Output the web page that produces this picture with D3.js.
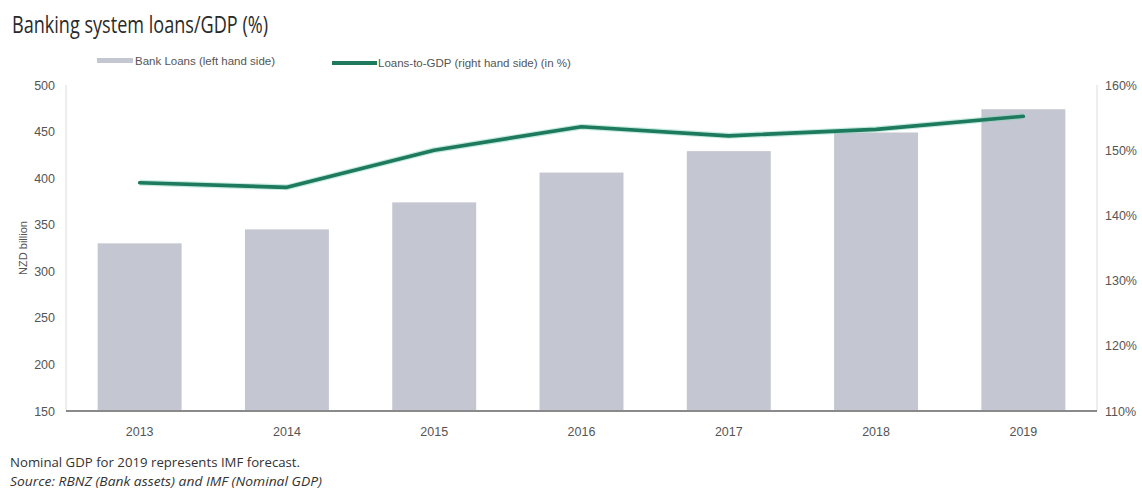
<!DOCTYPE html>
<html>
<head>
<meta charset="utf-8">
<script src="https://cdn.jsdelivr.net/npm/d3@7"></script>
<style>
  html, body { margin: 0; padding: 0; background: #fff; }
  svg { display: block; }
</style>
</head>
<body>
<svg id="chart" width="1142" height="496"></svg>
<script>
// Years on the category axis
const years = ["2013", "2014", "2015", "2016", "2017", "2018", "2019"];
// Bank loans, NZD billion (left axis)
const bankLoans = [330, 345, 374, 406, 429, 449, 474];
// Loans-to-GDP ratio, % (right axis)
const loansToGdp = [145.0, 144.3, 150.0, 153.6, 152.2, 153.2, 155.2];
// Axis ticks
const leftTicks = [150, 200, 250, 300, 350, 400, 450, 500];
const rightTicks = [110, 120, 130, 140, 150, 160];

const svg = d3.select("#chart");
const plot = { left: 66, right: 1097, top: 85, bottom: 411 };

const x = d3.scaleBand()
  .domain(years)
  .range([plot.left, plot.right])
  .paddingInner(0.43)
  .paddingOuter(0.215);

const yL = d3.scaleLinear().domain([150, 500]).range([plot.bottom, plot.top]);
const yR = d3.scaleLinear().domain([110, 160]).range([plot.bottom, plot.top]);

const labelFont = "'Liberation Sans', Arial, sans-serif";
const humanist = "'Open Sans', 'Noto Sans', sans-serif";

// Title
svg.append("text")
  .attr("x", 12).attr("y", 33)
  .attr("font-family", humanist)
  .attr("font-size", 23)
  .attr("fill", "#2a2a2a")
  .attr("textLength", 256)
  .attr("lengthAdjust", "spacingAndGlyphs")
  .text("Banking system loans/GDP (%)");

// Legend
const legend = svg.append("g").attr("font-family", labelFont).attr("font-size", 11.5).attr("fill", "#555");
legend.append("rect").attr("x", 97).attr("y", 58).attr("width", 36).attr("height", 5).attr("fill", "#c4c7d1");
legend.append("text").attr("x", 135).attr("y", 64.5).attr("fill", "#555").text("Bank Loans (left hand side)");
legend.append("line").attr("x1", 332).attr("x2", 377).attr("y1", 63).attr("y2", 63)
  .attr("stroke", "#1d7a5c").attr("stroke-width", 4);
legend.append("text").attr("x", 378).attr("y", 67).attr("fill", "#555").text("Loans-to-GDP (right hand side) (in %)");

// Vertical frame lines at both sides
svg.append("line").attr("x1", plot.left).attr("x2", plot.left)
  .attr("y1", plot.top).attr("y2", plot.bottom).attr("stroke", "#dcdcdc").attr("stroke-width", 1);
svg.append("line").attr("x1", plot.right).attr("x2", plot.right)
  .attr("y1", plot.top).attr("y2", plot.bottom).attr("stroke", "#dcdcdc").attr("stroke-width", 1);

// Bars
svg.append("g").selectAll("rect")
  .data(years)
  .join("rect")
  .attr("x", d => x(d))
  .attr("width", x.bandwidth())
  .attr("y", (d, i) => yL(bankLoans[i]))
  .attr("height", (d, i) => yL(150) - yL(bankLoans[i]))
  .attr("fill", "#c4c7d1");

// Baseline
svg.append("line").attr("x1", plot.left).attr("x2", plot.right)
  .attr("y1", plot.bottom).attr("y2", plot.bottom)
  .attr("stroke", "#8a8a8a").attr("stroke-width", 2);

// Ratio line
const line = d3.line()
  .x((d, i) => x(years[i]) + x.bandwidth() / 2)
  .y(d => yR(d));
svg.append("path").datum(loansToGdp)
  .attr("d", line).attr("fill", "none")
  .attr("stroke", "#7fd0b8").attr("stroke-opacity", 0.45)
  .attr("stroke-width", 6).attr("stroke-linejoin", "round");
svg.append("path").datum(loansToGdp)
  .attr("d", line).attr("fill", "none")
  .attr("stroke", "#1d7a5c").attr("stroke-width", 3.6)
  .attr("stroke-linejoin", "round").attr("stroke-linecap", "round");

// Left axis
const axL = svg.append("g")
  .attr("transform", `translate(${plot.left},0)`)
  .call(d3.axisLeft(yL).tickValues(leftTicks).tickSize(0).tickPadding(11));
axL.select(".domain").remove();
axL.selectAll("text").attr("font-family", labelFont).attr("font-size", 12.5).attr("fill", "#555");

// Right axis
const axR = svg.append("g")
  .attr("transform", `translate(${plot.right},0)`)
  .call(d3.axisRight(yR).tickValues(rightTicks).tickSize(0).tickPadding(8).tickFormat(d => d + "%"));
axR.select(".domain").remove();
axR.selectAll("text").attr("font-family", labelFont).attr("font-size", 12.5).attr("fill", "#555");

// Category axis
const axB = svg.append("g")
  .attr("transform", `translate(0,${plot.bottom})`)
  .call(d3.axisBottom(x).tickSize(0).tickPadding(16));
axB.select(".domain").remove();
axB.selectAll("text").attr("font-family", labelFont).attr("font-size", 12.5).attr("fill", "#555");

// Left axis title
svg.append("text")
  .attr("transform", `translate(27,${(plot.top + plot.bottom) / 2}) rotate(-90)`)
  .attr("text-anchor", "middle")
  .attr("font-family", labelFont).attr("font-size", 11).attr("fill", "#555")
  .text("NZD billion");

// Notes
svg.append("text")
  .attr("x", 10).attr("y", 467)
  .attr("font-family", humanist).attr("font-size", 13.5).attr("fill", "#333")
  .attr("textLength", 290).attr("lengthAdjust", "spacingAndGlyphs")
  .text("Nominal GDP for 2019 represents IMF forecast.");
svg.append("text")
  .attr("x", 10).attr("y", 486)
  .attr("font-family", humanist).attr("font-size", 13.5).attr("font-style", "italic").attr("fill", "#333")
  .attr("textLength", 312).attr("lengthAdjust", "spacingAndGlyphs")
  .text("Source: RBNZ (Bank assets) and IMF (Nominal GDP)");
</script>
</body>
</html>
